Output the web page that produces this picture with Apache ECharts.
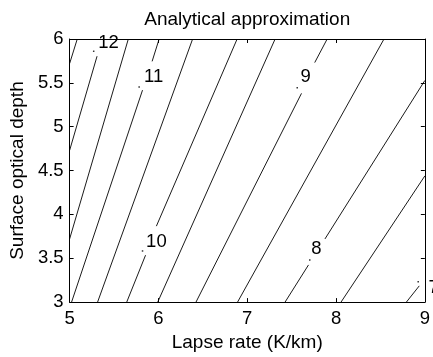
<!DOCTYPE html>
<html>
<head>
<meta charset="utf-8">
<script src="https://cdn.jsdelivr.net/npm/echarts@6/dist/echarts.min.js"></script>
<style>
  html, body { margin: 0; padding: 0; background: #fff; }
  #chart { width: 433px; height: 357px; }
</style>
</head>
<body>
<div id="chart"></div>
<script>
// Axis ranges and ticks
const xRange = [5, 9];
const yRange = [3, 6];
const xStep = 1;
const yStep = 0.5;

// Contour lines of the analytical approximation, as [lapse rate, optical depth] pieces.
// Labelled contours are split where their label sits.
const c125 = [[[5.0, 5.72], [5.086, 6.0]]];
const c120 = [[[5.0, 4.73], [5.309, 5.804]]];
const c115 = [[[5.0, 3.72], [5.661, 6.0]]];
const c110 = [[[5.022, 3.0], [5.821, 5.417]], [[5.929, 5.745], [6.008, 6.0]]];
const c105 = [[[5.315, 3.0], [6.385, 6.0]]];
const c100 = [[[5.643, 3.0], [5.855, 3.535]], [[5.977, 3.866], [6.886, 6.0]]];
const c095 = [[[5.992, 3.0], [7.314, 6.0]]];
const c090 = [[[6.423, 3.0], [7.611, 5.380]], [[7.760, 5.731], [7.900, 6.0]]];
const c085 = [[[6.891, 3.0], [8.540, 6.0]]];
const c080 = [[[7.426, 3.0], [7.690, 3.424]], [[7.875, 3.720], [9.0, 5.527]]];
const c075 = [[[8.056, 3.0], [9.0, 4.439]]];
const c070 = [[[8.792, 3.0], [8.937, 3.185]]];
const contours = [c125, c120, c115, c110, c105, c100, c095, c090, c085, c080, c075, c070];

// Contour labels: text, text centre, and the small marker beside each
const labelText = ['12', '11', '10', '9', '8', '7'];
const labelAt = [[5.437, 5.96], [5.947, 5.563], [5.977, 3.683], [7.657, 5.565], [7.778, 3.609], [9.042, 3.166]];
const markAt = [[5.271, 5.860], [5.783, 5.454], [5.821, 3.583], [7.563, 5.443], [7.704, 3.479], [8.925, 3.232]];

const FONT = 'Liberation Sans, Arial, Helvetica, sans-serif';

const series = [];
contours.forEach(function (pieces) {
  pieces.forEach(function (seg) {
    series.push({
      type: 'line',
      data: seg,
      showSymbol: false,
      silent: true,
      animation: false,
      lineStyle: { color: '#000', width: 0.9 },
      z: 3
    });
  });
});

series.push({
  type: 'scatter',
  data: markAt,
  symbol: 'rect',
  symbolSize: [1.5, 1.5],
  itemStyle: { color: '#000' },
  silent: true,
  animation: false,
  z: 4
});

series.push({
  type: 'scatter',
  data: labelAt.map(function (p, i) {
    return {
      value: p,
      name: labelText[i],
      label: i === labelText.length - 1 ? { align: 'left' } : {}
    };
  }),
  symbolSize: 0,
  clip: false,
  silent: true,
  animation: false,
  itemStyle: { color: '#000', opacity: 1 },
  label: {
    show: true,
    position: 'inside',
    formatter: function (p) { return p.name; },
    color: '#000',
    opacity: 1,
    textBorderWidth: 0,
    fontFamily: FONT,
    fontSize: 18.5,
    align: 'center',
    verticalAlign: 'middle'
  },
  z: 5
});

const axisLineStyle = { show: true, lineStyle: { color: '#000', width: 1 } };
const tickStyle = { show: true, inside: true, length: 4, lineStyle: { color: '#000', width: 1 } };
const labelStyle = { color: '#000', fontFamily: FONT, fontSize: 18.5 };

const chart = echarts.init(document.getElementById('chart'), null, { renderer: 'canvas' });
chart.setOption({
  backgroundColor: '#fff',
  animation: false,
  grid: { left: 69, top: 39, width: 358, height: 271, containLabel: false },
  xAxis: [
    {
      type: 'value', min: xRange[0], max: xRange[1], interval: xStep,
      position: 'bottom',
      name: 'Lapse rate (K/km)', nameLocation: 'middle', nameGap: 29,
      nameTextStyle: { color: '#000', fontFamily: FONT, fontSize: 19 },
      axisLine: axisLineStyle, axisTick: tickStyle,
      axisLabel: Object.assign({ margin: 7 }, labelStyle),
      splitLine: { show: false }
    },
    {
      type: 'value', min: xRange[0], max: xRange[1], interval: xStep,
      position: 'top',
      name: 'Analytical approximation', nameLocation: 'middle', nameGap: 10,
      nameTextStyle: { color: '#000', fontFamily: FONT, fontSize: 19, verticalAlign: 'bottom' },
      axisLine: axisLineStyle, axisTick: tickStyle,
      axisLabel: { show: false }, splitLine: { show: false }
    }
  ],
  yAxis: [
    {
      type: 'value', min: yRange[0], max: yRange[1], interval: yStep,
      position: 'left',
      name: 'Surface optical depth', nameLocation: 'middle', nameGap: 40,
      nameTextStyle: { color: '#000', fontFamily: FONT, fontSize: 19 },
      axisLine: axisLineStyle, axisTick: tickStyle,
      axisLabel: Object.assign({ margin: 6 }, labelStyle),
      splitLine: { show: false }
    },
    {
      type: 'value', min: yRange[0], max: yRange[1], interval: yStep,
      position: 'right',
      axisLine: axisLineStyle, axisTick: tickStyle,
      axisLabel: { show: false }, splitLine: { show: false }
    }
  ],
  series: series
});
</script>
</body>
</html>
